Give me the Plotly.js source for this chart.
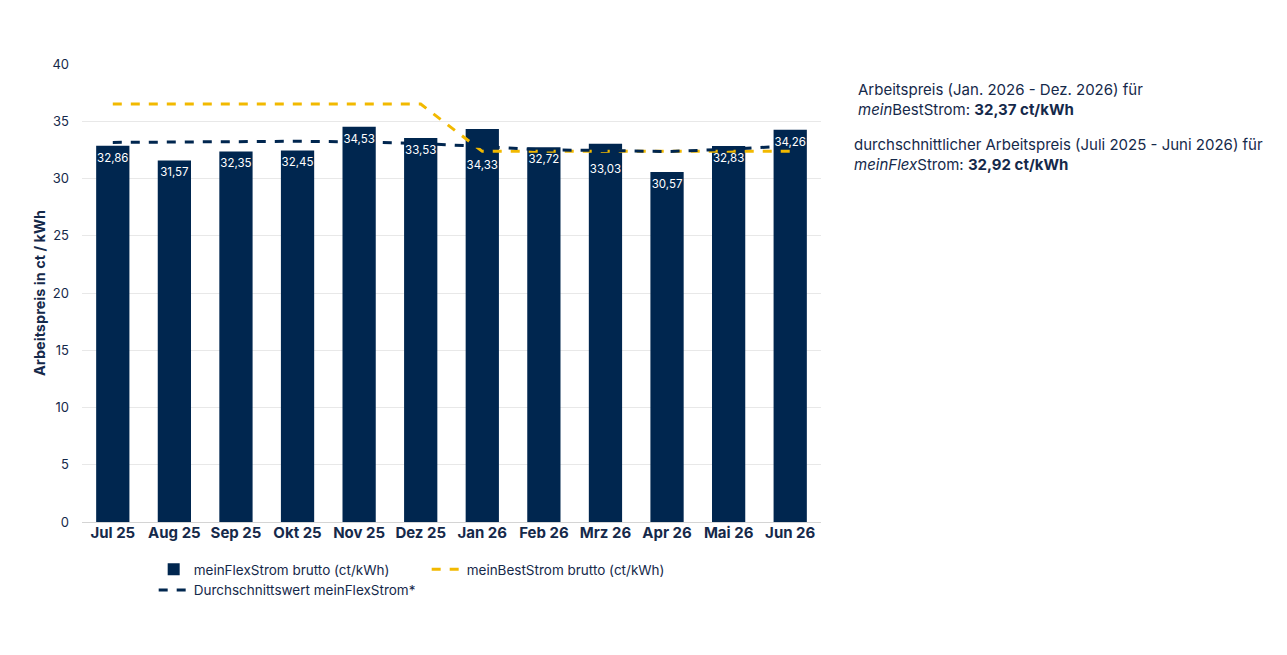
<!DOCTYPE html>
<html>
<head>
<meta charset="utf-8">
<script src="https://cdn.plot.ly/plotly-3.0.1.min.js"></script>
<style>
  html, body { margin: 0; padding: 0; background: #fff; }
  #chart { width: 1287px; height: 655px; }
</style>
</head>
<body>
<div id="chart"></div>
<script>
const months = ['Jul 25', 'Aug 25', 'Sep 25', 'Okt 25', 'Nov 25', 'Dez 25',
                'Jan 26', 'Feb 26', 'Mrz 26', 'Apr 26', 'Mai 26', 'Jun 26'];
const flexPrices = [32.86, 31.57, 32.35, 32.45, 34.53, 33.53, 34.33, 32.72, 33.03, 30.57, 32.83, 34.26];
const bestPrices = [36.5, 36.5, 36.5, 36.5, 36.5, 36.5, 32.37, 32.37, 32.37, 32.37, 32.37, 32.37];
const flexAverage = [33.15, 33.2, 33.25, 33.25, 33.2, 33.05, 32.8, 32.5, 32.45, 32.35, 32.55, 32.85];

const navy = '#00264f';
const yellow = '#f2b900';
const textColor = '#15294a';
const font = 'Inter, "Open Sans", sans-serif';

const fmt = v => v.toFixed(2).replace('.', ',');

const bars = {
    x: months,
    y: flexPrices,
    type: 'bar',
    name: 'meinFlexStrom brutto (ct/kWh)',
    marker: { color: navy },
    hoverinfo: 'skip'
};

const best = {
    x: months,
    y: bestPrices,
    type: 'scatter',
    mode: 'lines',
    name: 'meinBestStrom brutto (ct/kWh)',
    line: { color: yellow, width: 3, dash: 'dash' }
};

const avg = {
    x: months,
    y: flexAverage,
    type: 'scatter',
    mode: 'lines',
    name: 'Durchschnittswert meinFlexStrom*',
    line: { color: navy, width: 3, dash: 'dash' }
};

// bar value labels drawn last so they sit above the dashed lines;
// the invisible marker size pushes a few labels down, clear of the lines
const labels = {
    x: months,
    y: flexPrices,
    type: 'scatter',
    mode: 'markers+text',
    marker: {
        size: [10, 10, 10, 10, 10, 10, 48, 10, 32, 10, 10, 10],
        opacity: 0,
        line: { width: 0 }
    },
    text: flexPrices.map(fmt),
    textposition: 'bottom center',
    textfont: { color: '#ffffff', size: 11.5, family: font },
    showlegend: false,
    hoverinfo: 'skip'
};

const layout = {
    width: 1287,
    height: 655,
    margin: { t: 64, b: 133, l: 82, r: 466 },
    paper_bgcolor: '#ffffff',
    plot_bgcolor: '#ffffff',
    separators: ',.',
    font: { family: font, color: textColor, size: 13 },
    bargap: 0.46,
    xaxis: {
        range: [-0.5, 11.5],
        tickfont: { size: 15, family: font, color: textColor, weight: 'bold' },
        showgrid: false,
        showline: false,
        ticks: ''
    },
    yaxis: {
        range: [0, 40],
        dtick: 5,
        gridcolor: '#e8e8e8',
        zeroline: true,
        zerolinecolor: '#d4d4d4',
        tickfont: { size: 13, color: textColor },
        ticklabelstandoff: 12,
        title: {
            text: 'Arbeitspreis in ct / kWh',
            font: { size: 14.5, color: textColor, weight: 'bold' },
            standoff: 3
        }
    },
    showlegend: true,
    legend: {
        orientation: 'h',
        x: 0.097,
        xanchor: 'left',
        y: -0.07,
        yanchor: 'top',
        entrywidth: 228,
        font: { size: 13.5, color: textColor },
        traceorder: 'normal'
    },
    annotations: [
        {
            xref: 'paper', yref: 'paper',
            x: 1.047, y: 0.922, xanchor: 'left', yanchor: 'middle', align: 'left',
            showarrow: false,
            font: { size: 15, color: textColor },
            text: 'Arbeitspreis (Jan. 2026 - Dez. 2026) für<br><i>mein</i>BestStrom: <b>32,37 ct/kWh</b>'
        },
        {
            xref: 'paper', yref: 'paper',
            x: 1.042, y: 0.802, xanchor: 'left', yanchor: 'middle', align: 'left',
            showarrow: false,
            font: { size: 15, color: textColor },
            text: 'durchschnittlicher Arbeitspreis (Juli 2025 - Juni 2026) für<br><i>meinFlex</i>Strom: <b>32,92 ct/kWh</b>'
        }
    ]
};

Plotly.newPlot('chart', [bars, best, avg, labels], layout, { displayModeBar: false, staticPlot: true });
</script>
</body>
</html>
